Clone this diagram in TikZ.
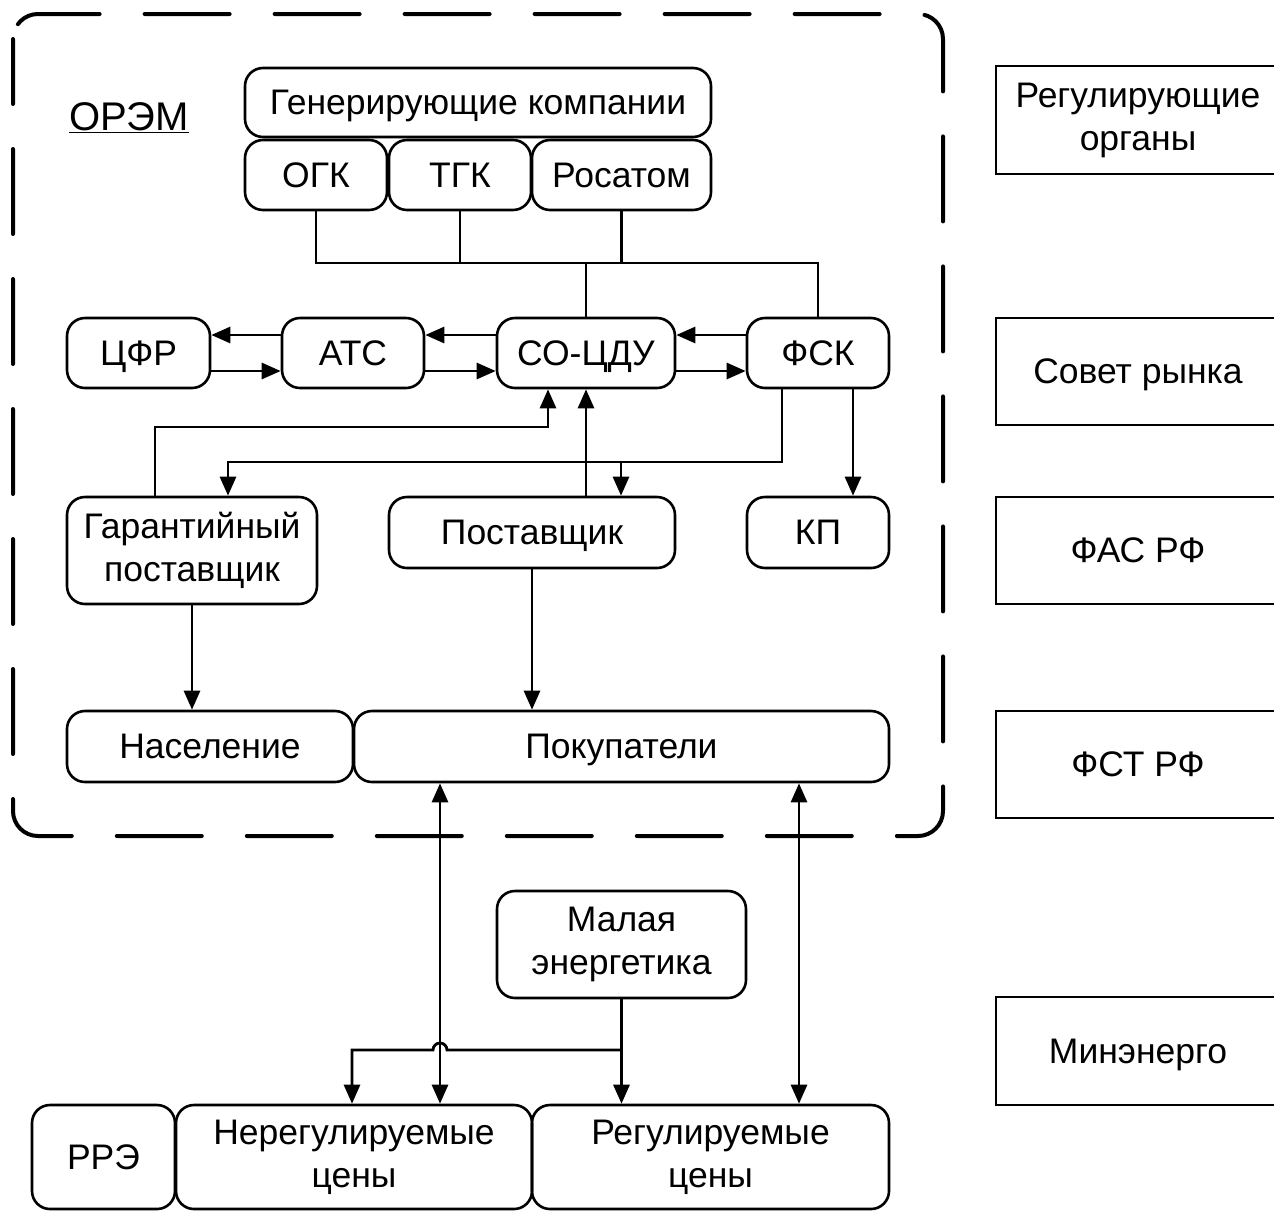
\documentclass[tikz,border=0pt]{standalone}
\usepackage{fontspec}
\setmainfont{Liberation Sans}
\usetikzlibrary{arrows.meta}
\begin{document}
\begin{tikzpicture}[x=1pt,y=-1pt,
  box/.style={draw, rounded corners=18pt, line width=2.6pt, inner sep=0pt, align=center,
    font=\fontsize{35.5}{43}\selectfont},
  one/.style={text height=30pt, text depth=6pt},
  rbox/.style={draw, line width=2.4pt, inner sep=0pt, align=center,
    font=\fontsize{35.5}{43}\selectfont, minimum width=284pt},
  conn/.style={line width=2.8pt},
  arr/.style={conn, -{Triangle[length=19pt,width=16pt]}},
  arrb/.style={conn, {Triangle[length=19pt,width=16pt]}-{Triangle[length=19pt,width=16pt]}}]
\useasboundingbox (0,0) rectangle (1274,1211);
% dashed frame
\draw[line width=4pt, line cap=round, rounded corners=25pt, dash pattern=on 85pt off 45pt, dash phase=20pt]
  (13,14) rectangle (943,836);
\node[font=\fontsize{40}{46}\selectfont] (orem) at (129,118) {\underline{ОРЭМ}};
% nodes
\node[box, one, minimum width=466pt, minimum height=69pt] (gen) at (478,102.5) {Генерирующие компании};
\node[box, one, minimum width=142pt, minimum height=70pt] (ogk) at (316,175) {ОГК};
\node[box, one, minimum width=142pt, minimum height=70pt] (tgk) at (460,175) {ТГК};
\node[box, one, minimum width=179pt, minimum height=70pt] (ros) at (621.5,175) {Росатом};
\node[box, one, minimum width=143pt, minimum height=70pt] (cfr) at (138.5,353) {ЦФР};
\node[box, one, minimum width=142pt, minimum height=70pt] (ats) at (353,353) {АТС};
\node[box, one, minimum width=178pt, minimum height=70pt] (so) at (586,353) {СО-ЦДУ};
\node[box, one, minimum width=142pt, minimum height=70pt] (fsk) at (818,353) {ФСК};
\node[box, minimum width=250pt, minimum height=107pt] (gp) at (192,550.5) {Гарантийный\\поставщик};
\node[box, one, minimum width=286pt, minimum height=71pt] (post) at (532,532.5) {Поставщик};
\node[box, one, minimum width=142pt, minimum height=71pt] (kp) at (818,532.5) {КП};
\node[box, one, minimum width=286pt, minimum height=71pt] (nas) at (210,746.5) {Население};
\node[box, one, minimum width=535pt, minimum height=71pt] (pok) at (621.5,746.5) {Покупатели};
\node[box, minimum width=249pt, minimum height=107pt] (mal) at (621.5,944.5) {Малая\\энергетика};
\node[box, one, minimum width=143pt, minimum height=104pt] (rre) at (103.5,1157) {РРЭ};
\node[box, minimum width=356pt, minimum height=104pt] (nereg) at (354,1157) {Нерегулируемые\\цены};
\node[box, minimum width=357pt, minimum height=104pt] (reg) at (710.5,1157) {Регулируемые\\цены};
% right boxes
\node[rbox, minimum height=108pt] (rorg) at (1138,120) {Регулирующие\\органы};
\node[rbox, one, minimum height=107pt] (sovet) at (1138,371.5) {Совет рынка};
\node[rbox, one, minimum height=107pt] (fas) at (1138,550.5) {ФАС РФ};
\node[rbox, one, minimum height=107pt] (fst) at (1138,764.5) {ФСТ РФ};
\node[rbox, one, minimum height=108pt] (minen) at (1138,1051) {Минэнерго};
% bus from generators
\coordinate (busL) at (316,263);
\coordinate (busR) at (818,263);
\draw[conn] (ogk.south) -- (busL) -- (busR) -- (fsk.north);
\draw[conn] (tgk.south) -- (tgk.south |- busL);
\draw[conn] (ros.south) -- (ros.south |- busL);
\draw[conn] (so.north) -- (so.north |- busL);
% horizontal arrows
\draw[arr] ([yshift=18pt]ats.west) -- ([yshift=18pt]cfr.east);
\draw[arr] ([yshift=-18pt]cfr.east) -- ([yshift=-18pt]ats.west);
\draw[arr] ([yshift=18pt]so.west) -- ([yshift=18pt]ats.east);
\draw[arr] ([yshift=-18pt]ats.east) -- ([yshift=-18pt]so.west);
\draw[arr] ([yshift=18pt]fsk.west) -- ([yshift=18pt]so.east);
\draw[arr] ([yshift=-18pt]so.east) -- ([yshift=-18pt]fsk.west);
% to SO-CDU from below
\coordinate (g1) at (155,427);
\coordinate (g2) at (548,427);
\draw[arr] (gp.north -| g1) -- (g1) -- (g2) -- (g2 |- so.south);
\draw[arr] (post.north -| so.south) -- (so.south);
% from FSK
\coordinate (f1) at (782,462);
\coordinate (f2) at (228,462);
\coordinate (f3) at (621,462);
\draw[arr] (fsk.south -| f1) -- (f1) -- (f2) -- (f2 |- gp.north);
\draw[arr] (f3) -- (f3 |- post.north);
\draw[arr] ([xshift=35pt]fsk.south) -- ([xshift=35pt]kp.north);
% down to consumers
\draw[arr] (gp.south) -- (gp.south |- nas.north);
\draw[arr] (post.south) -- (post.south |- pok.north);
% bidirectional
\coordinate (b1) at (440,0);
\coordinate (b2) at (799,0);
\draw[arrb] (pok.south -| b1) -- (nereg.north -| b1);
\draw[arrb] (pok.south -| b2) -- (reg.north -| b2);
% small energy
\coordinate (m1) at (621.5,1050);
\coordinate (h1) at (352,1050);
\draw[arr] (mal.south) -- (mal.south |- reg.north);
\draw[arr] (m1) -- (447,1050) arc[start angle=0, end angle=-180, radius=7] -- (h1) -- (h1 |- nereg.north);
\end{tikzpicture}
\end{document}
